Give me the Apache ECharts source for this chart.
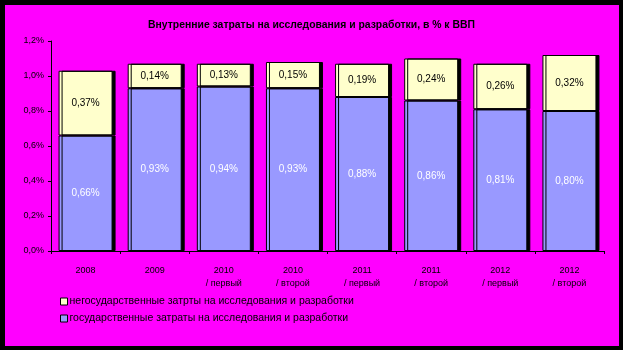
<!DOCTYPE html>
<html><head><meta charset="utf-8">
<script src="https://cdn.jsdelivr.net/npm/echarts@6/dist/echarts.min.js"></script>
<style>html,body{margin:0;padding:0;background:#000;}#c{width:623px;height:350px;}</style>
</head><body><div id="c"></div>
<script>
const categories = ["2008","2009","2010\n/ первый","2010\n/ второй","2011\n/ первый","2011\n/ второй","2012\n/ первый","2012\n/ второй"];
const govValues = [0.66,0.93,0.94,0.93,0.88,0.86,0.81,0.80];
const nonGovValues = [0.37,0.14,0.13,0.15,0.19,0.24,0.26,0.32];
const yTicks = [0,0.2,0.4,0.6,0.8,1.0,1.2];
const titleText = "Внутренние затраты на исследования и разработки, в % к ВВП";
const govName = "государственные затраты на исследования и разработки";
const nonGovName = "негосударственные затрты на исследования и разработки";

const fmt = v => v.toFixed(2).replace('.', ',') + '%';
const chart = echarts.init(document.getElementById('c'));
const FONT = 'Liberation Sans, Arial, sans-serif';
chart.setOption({
  backgroundColor: 'transparent',
  animation: false,
  graphic: [{type:'rect', shape:{x:5,y:5,width:614,height:341}, style:{fill:'#FF00FF'}, z:-10}],
  title: {text: titleText, left: 'center', top: 15, textStyle:{fontFamily:FONT,fontSize:10.4,fontWeight:'bold',color:'#000'}},
  legend: {
    orient:'vertical', left:55, top:291, itemGap:6, itemWidth:7, itemHeight:7, icon:'rect',
    data:[nonGovName, govName],
    textStyle:{fontFamily:FONT,fontSize:10.5,color:'#000',padding:[0,0,0,-3]},
    itemStyle:{borderColor:'#000',borderWidth:1}
  },
  grid: {left:51, right:19, top:41, bottom:99},
  xAxis: {
    type:'category', data:categories,
    axisLine:{lineStyle:{color:'#000',width:1}},
    axisTick:{show:true, length:3, lineStyle:{color:'#000'}},
    axisLabel:{fontFamily:FONT,fontSize:9,color:'#000',margin:13,lineHeight:13}
  },
  yAxis: {
    type:'value', min:0, max:1.2, interval:0.2,
    axisLine:{show:true,lineStyle:{color:'#000',width:1}},
    axisTick:{show:true,length:3,lineStyle:{color:'#000'}},
    splitLine:{show:false},
    axisLabel:{fontFamily:FONT,fontSize:9,color:'#000',margin:7,formatter:v=>v.toFixed(1).replace('.',',')+'%'}
  },
  series: [
    {name:govName, type:'bar', stack:'a', data:govValues, barWidth:54,
     itemStyle:{color:'#9999FF',borderColor:'#000',borderWidth:1,shadowColor:'#000',shadowOffsetX:3,shadowOffsetY:0,shadowBlur:0},
     label:{show:true,position:'inside',formatter:p=>fmt(p.value),color:'#fff',fontFamily:FONT,fontSize:10}},
    {name:nonGovName, type:'bar', stack:'a', data:nonGovValues, barWidth:54,
     itemStyle:{color:'#FFFFCC',borderColor:'#000',borderWidth:1,shadowColor:'#000',shadowOffsetX:3,shadowOffsetY:0,shadowBlur:0},
     label:{show:true,position:'inside',formatter:p=>fmt(p.value),color:'#000',fontFamily:FONT,fontSize:10}}
  ]
});
</script></body></html>
